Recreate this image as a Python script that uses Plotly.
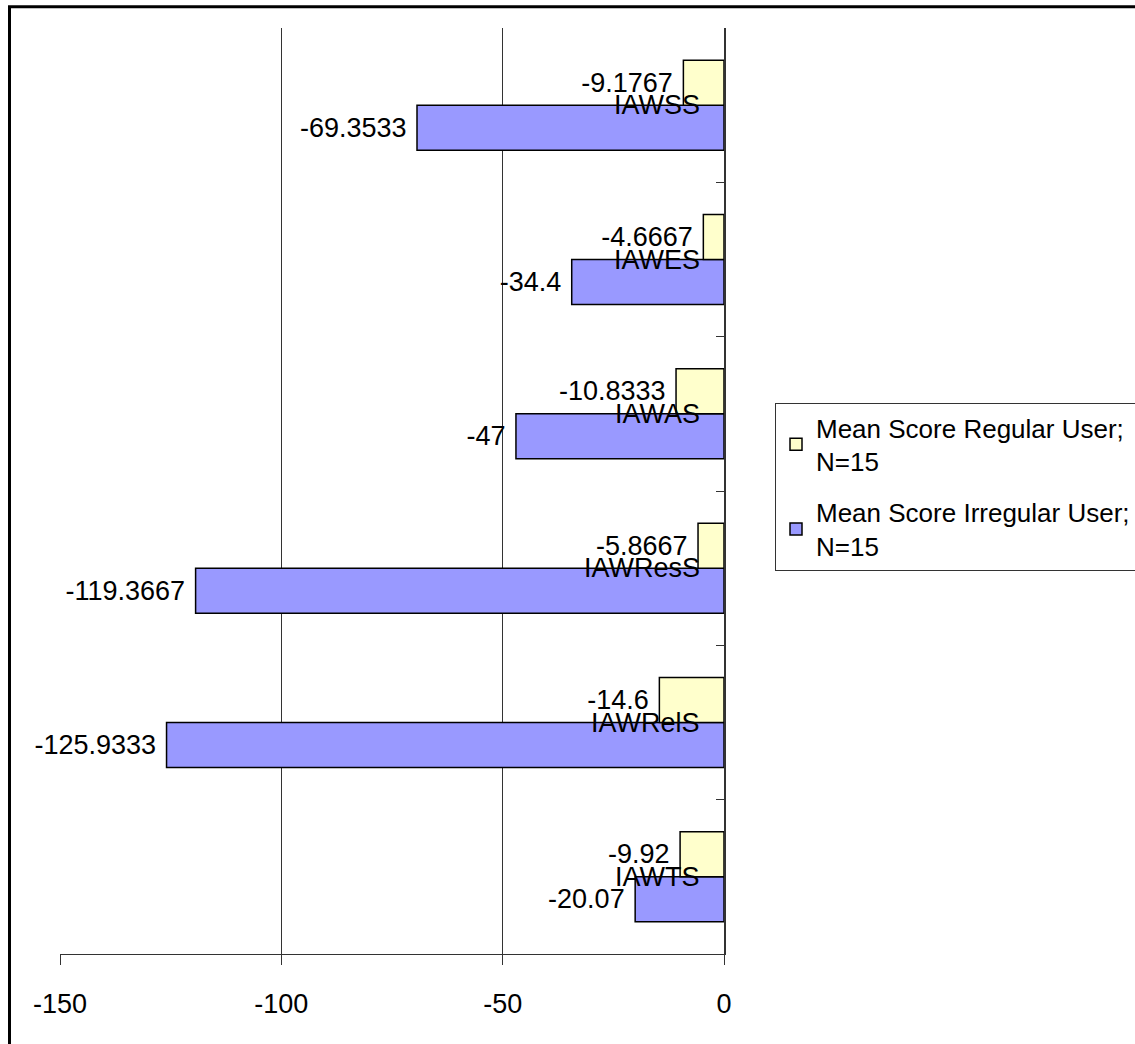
import plotly.graph_objects as go

# Categories listed from the bottom of the chart to the top
categories = ["IAWTS", "IAWRelS", "IAWResS", "IAWAS", "IAWES", "IAWSS"]
regular_scores = [-9.92, -14.6, -5.8667, -10.8333, -4.6667, -9.1767]
irregular_scores = [-20.07, -125.9333, -119.3667, -47, -34.4, -69.3533]
x_ticks = [-150, -100, -50, 0]

FONT = "Liberation Sans, Arial, sans-serif"
SIZE = 27
NBSP = "\u00a0"


def fmt(v):
    s = f"{v:.4f}".rstrip("0").rstrip(".")
    return s + NBSP


fig = go.Figure()

# Irregular first so it sits in the lower slot of each category group
fig.add_trace(go.Bar(
    y=categories, x=irregular_scores, orientation="h",
    name="Mean Score Irregular User;<br>N=15",
    legendgroup="irregular", legendrank=2,
    marker=dict(color="#9999FF", line=dict(color="black", width=1.5)),
    text=[fmt(v) for v in irregular_scores], textposition="outside",
    textfont=dict(family=FONT, size=SIZE, color="black"),
    cliponaxis=False, constraintext="none",
))
fig.add_trace(go.Bar(
    y=categories, x=regular_scores, orientation="h",
    name="Mean Score Regular User;<br>N=15",
    legendgroup="regular", legendrank=1,
    marker=dict(color="#FFFFCC", line=dict(color="black", width=1.5)),
    text=[fmt(v) for v in regular_scores], textposition="outside",
    textfont=dict(family=FONT, size=SIZE, color="black"),
    cliponaxis=False, constraintext="none",
))

# Category names sit just left of the value axis at x = 0
annotations = [
    dict(x=0, y=c, xref="x", yref="y", text=c, showarrow=False,
         xanchor="right", yanchor="middle", xshift=-22,
         font=dict(family=FONT, size=SIZE, color="black"))
    for c in categories
]

fig.update_layout(
    width=1135, height=1044, autosize=False,
    margin=dict(l=60, r=411, t=28, b=90, autoexpand=False),
    paper_bgcolor="white", plot_bgcolor="white",
    barmode="group", bargap=0.417, bargroupgap=0,
    font=dict(family=FONT, size=SIZE, color="black"),
    showlegend=True,
    legend=dict(
        traceorder="grouped",
        x=(775 - 60) / 664, y=(954 - 403) / 926, xanchor="left", yanchor="top",
        bordercolor="#333333", borderwidth=1, bgcolor="white",
        font=dict(family=FONT, size=26, color="black"),
        tracegroupgap=14,
    ),
    xaxis=dict(
        range=[-150, 0], tickvals=x_ticks, ticktext=[str(t) for t in x_ticks],
        showgrid=True, gridcolor="#333333", gridwidth=1,
        showline=True, linecolor="#333333", linewidth=1,
        ticks="outside", ticklen=10, tickcolor="#333333",
        ticklabelstandoff=16, zeroline=False,
        tickfont=dict(family=FONT, size=SIZE, color="black"),
    ),
    yaxis=dict(
        side="right", tickson="boundaries", showticklabels=False,
        ticks="inside", ticklen=8, tickcolor="#333333",
        showline=True, linecolor="#333333", linewidth=1.5,
        showgrid=False, zeroline=False,
    ),
    annotations=annotations,
    shapes=[dict(
        type="rect", xref="paper", yref="paper",
        x0=(9.5 - 60) / 664, x1=1.8, y0=-0.2, y1=(954 - 6.8) / 926,
        line=dict(color="black", width=3), fillcolor="rgba(0,0,0,0)",
        layer="above",
    )],
)

fig.write_html("out.html")
